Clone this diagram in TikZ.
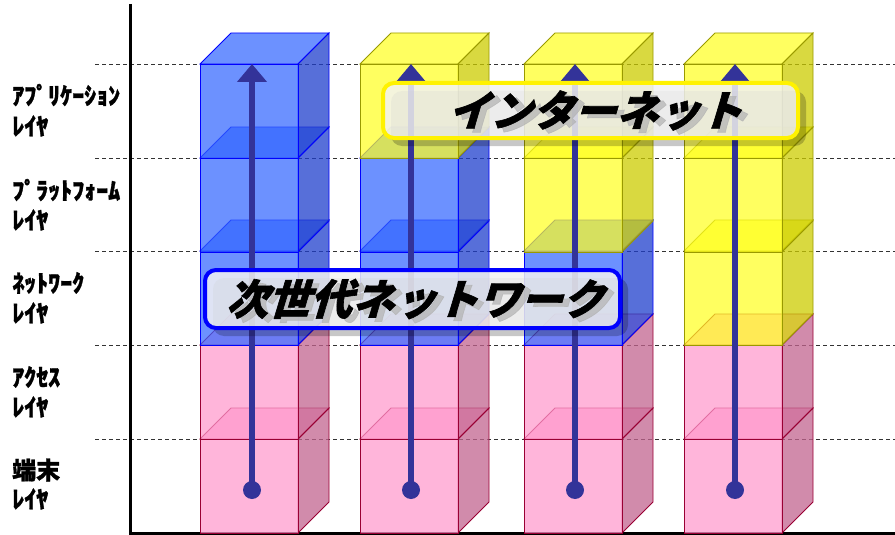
\documentclass[tikz,border=0pt]{standalone}
\usepackage{fontspec}
\usetikzlibrary{arrows.meta}
\newfontfamily\jplab{Noto Sans CJK JP}[FakeBold=1.2,BoldFeatures={FakeBold=1.2}]
\newfontfamily\jpsl{Noto Sans CJK JP}[FakeSlant=0.3,FakeBold=1.5,BoldFeatures={FakeSlant=0.3,FakeBold=1.5}]
\definecolor{bluef}{HTML}{3366FF}
\definecolor{bluer}{HTML}{1F3FCC}
\definecolor{bluee}{HTML}{0000FF}
\definecolor{pinkf}{HTML}{FF99CC}
\definecolor{pinkr}{HTML}{C2648F}
\definecolor{pinke}{HTML}{990033}
\definecolor{yelf}{HTML}{FFFF22}
\definecolor{yelr}{HTML}{CCCC00}
\definecolor{yele}{HTML}{999900}
\definecolor{arrowc}{HTML}{333399}
\newcommand{\cube}[3]{%
  \filldraw[draw=#3e, fill=#3f, fill opacity=0.72, line width=0.8pt] (#1,#2) -- ++(31,-31) -- ++(98,0) -- ++(-31,31) -- cycle;
  \filldraw[draw=#3e, fill=#3r, fill opacity=0.75, line width=0.8pt] (#1+98,#2) -- ++(31,-31) -- ++(0,94) -- ++(-31,31) -- cycle;
  \filldraw[draw=#3e, fill=#3f, fill opacity=0.72, line width=0.8pt] (#1,#2) rectangle ++(98,94);
}
\tikzset{
  guide/.style={draw=black!80, line width=0.7pt, dash pattern=on 4pt off 3pt},
  axisline/.style={draw=black, line width=3pt},
  dot/.style={circle, fill=arrowc, minimum size=18pt, inner sep=0pt},
  arr/.style={draw=arrowc, line width=6pt, -{Triangle[width=29pt,length=18pt]}},
  box/.style={rounded corners=11pt, line width=4pt, fill=black!5, fill opacity=0.85, minimum width=415pt, inner sep=0pt},
  boxshadow/.style={rounded corners=11pt, fill=black, fill opacity=0.22, minimum width=415pt, inner sep=0pt},
  bigtext/.style={font=\jpsl\bfseries\fontsize{42pt}{46pt}\selectfont, inner sep=0pt},
  bigshadow/.style={bigtext, text=black!30, text opacity=0.7},
  lab/.style={font=\jplab\bfseries\fontsize{24pt}{28pt}\selectfont, anchor=west, inner sep=0pt}
}
\begin{document}
\begin{tikzpicture}[x=1pt,y=-1pt]
\useasboundingbox (0,0) rectangle (895,535);
% guide lines
\foreach \yy/\nm in {64/ga,158/gb,251/gc,345/gd,439/ge}{
  \coordinate (\nm l) at (95,\yy);
  \coordinate (\nm r) at (895,\yy);
  \draw[guide] (\nm l) -- (\nm r);
}
% axes
\coordinate (ax0) at (130,533);
\coordinate (axt) at (130,4);
\coordinate (axr) at (895,533);
\draw[axisline] (axt) -- (ax0) -- (axr);
% column 1
\cube{200}{439}{pink}
\cube{200}{345}{pink}
\cube{200}{251}{blue}
\cube{200}{158}{blue}
\cube{200}{64}{blue}
% column 2
\cube{360}{439}{pink}
\cube{360}{345}{pink}
\cube{360}{251}{blue}
\cube{360}{158}{blue}
\cube{360}{64}{yel}
% column 3
\cube{524}{439}{pink}
\cube{524}{345}{pink}
\cube{524}{251}{blue}
\cube{524}{158}{yel}
\cube{524}{64}{yel}
% column 4
\cube{684}{439}{pink}
\cube{684}{345}{pink}
\cube{684}{251}{yel}
\cube{684}{158}{yel}
\cube{684}{64}{yel}
% arrows
\foreach \xx/\nm in {252/a,411/b,575/c,735/d}{
  \node[dot] (dot\nm) at (\xx,490) {};
  \coordinate (tip\nm) at (\xx,64);
  \draw[arr] (dot\nm.center) -- (tip\nm);
}
% next generation network box
\node[boxshadow, minimum height=58pt] (nbs) at (420.5,307) {};
\node[box, draw=bluee, minimum height=58pt] (nb) at (412.5,299) {};
\node[bigshadow] (nts) at (421,303) {次世代ネットワーク};
\node[bigtext] (nt) at (415,299) {次世代ネットワーク};
% internet box
\node[boxshadow, minimum height=55pt] (ibs) at (598.5,118.5) {};
\node[box, draw=yellow, minimum height=55pt] (ib) at (590.5,110.5) {};
\node[bigshadow] (its) at (601,114.5) {インターネット};
\node[bigtext] (it) at (595,110.5) {インターネット};
% layer labels
\node[lab] (l1a) at (12,95) {ｱﾌﾟﾘｹｰｼｮﾝ};
\node[lab] (l1b) at (12,126) {ﾚｲﾔ};
\node[lab] (l2a) at (12,190) {ﾌﾟﾗｯﾄﾌｫｰﾑ};
\node[lab] (l2b) at (12,220) {ﾚｲﾔ};
\node[lab] (l3a) at (12,283) {ﾈｯﾄﾜｰｸ};
\node[lab] (l3b) at (12,313) {ﾚｲﾔ};
\node[lab] (l4a) at (12,377) {ｱｸｾｽ};
\node[lab] (l4b) at (12,407) {ﾚｲﾔ};
\node[lab] (l5a) at (12,470) {端末};
\node[lab] (l5b) at (12,499) {ﾚｲﾔ};
\end{tikzpicture}
\end{document}
